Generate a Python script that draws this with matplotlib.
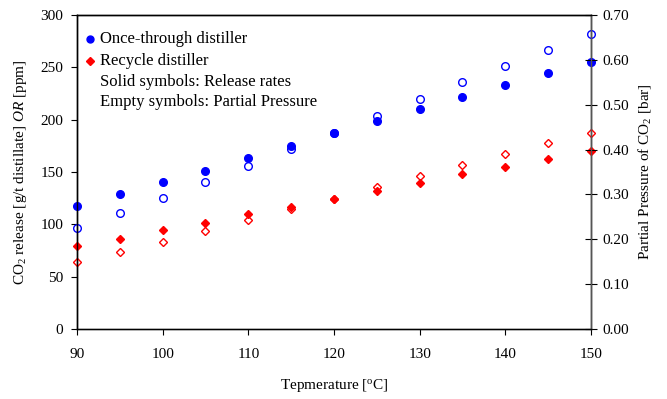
import numpy as np
from matplotlib import pyplot as plt

plt.rcParams['font.family'] = 'Liberation Serif'
plt.rcParams['mathtext.fontset'] = 'custom'
plt.rcParams['mathtext.rm'] = 'Liberation Serif'
plt.rcParams['mathtext.it'] = 'Liberation Serif:italic'

# data
temp = [90, 95, 100, 105, 110, 115, 120, 125, 130, 135, 140, 145, 150]
once_release = [117.2, 128.7, 140.2, 151.3, 163.2, 175.0, 187.0, 198.7, 210.2, 221.7, 233.2, 244.6, 255.4]
recycle_release = [79.0, 86.3, 94.3, 101.6, 109.6, 116.8, 124.0, 131.6, 139.8, 147.8, 155.1, 162.4, 170.3]
once_pressure = [0.225, 0.259, 0.292, 0.328, 0.363, 0.401, 0.436, 0.475, 0.512, 0.550, 0.587, 0.621, 0.657]
recycle_pressure = [0.150, 0.172, 0.195, 0.218, 0.242, 0.267, 0.290, 0.316, 0.342, 0.366, 0.390, 0.414, 0.438]

blue = '#0000ff'
red = '#ff0000'
fs = 11
lfs = 12

fig = plt.figure(figsize=(6.67, 3.99), dpi=100)
ax = fig.add_axes([0.1154, 0.1754, 0.7706, 0.787])
ax2 = ax.twinx()

ax.plot(temp, once_release, 'o', color=blue, ms=5.5, clip_on=False, zorder=5)
ax.plot(temp, recycle_release, 'D', color=red, ms=4.5, clip_on=False, zorder=5)
ax2.plot(temp, once_pressure, 'o', mfc='none', mec=blue, mew=1.0, ms=5.5, clip_on=False)
ax2.plot(temp, recycle_pressure, 'D', mfc='none', mec=red, mew=1.0, ms=4.3, clip_on=False)

ax.set_xlim(90, 150)
ax.set_ylim(0, 300)
ax2.set_ylim(0, 0.70)
ax.set_xticks(np.arange(90, 151, 10))
ax.set_yticks(np.arange(0, 301, 50))
ax2.set_yticks(np.arange(0, 0.71, 0.1))
ax2.set_yticklabels(['%.2f' % v for v in np.arange(0, 0.71, 0.1)])

ax.tick_params(axis='y', direction='out', length=4, labelsize=fs, pad=6)
ax.tick_params(axis='x', direction='out', length=4, labelsize=fs, pad=10)
ax2.tick_params(axis='y', direction='inout', length=8, labelsize=fs, pad=4)
for a in (ax, ax2):
    for s in a.spines.values():
        s.set_linewidth(1.0)
ax2.spines['right'].set_color('#555555')
ax.spines['bottom'].set_color('#555555')

ax.set_xlabel(r'Tepmerature [$^{\rm o}$C]', fontsize=fs, labelpad=11)
ax.set_ylabel(r'CO$_2$ release [g/t distillate] $OR$ [ppm]', fontsize=fs, labelpad=8)
ax2.set_ylabel(r'Partial Pressure of CO$_2$ [bar]', fontsize=fs, labelpad=5)

# legend-like annotation block
tx = ax.transAxes
ax.plot([0.025], [0.925], 'o', color=blue, ms=5, transform=tx)
ax.text(0.045, 0.925, 'Once-through distiller', transform=tx, fontsize=lfs, va='center')
ax.plot([0.025], [0.852], 'D', color=red, ms=4.5, transform=tx)
ax.text(0.045, 0.852, 'Recycle distiller', transform=tx, fontsize=lfs, va='center')
ax.text(0.045, 0.788, 'Solid symbols: Release rates', transform=tx, fontsize=lfs, va='center')
ax.text(0.045, 0.724, 'Empty symbols: Partial Pressure', transform=tx, fontsize=lfs, va='center')

fig.savefig('out.png', dpi=100)
